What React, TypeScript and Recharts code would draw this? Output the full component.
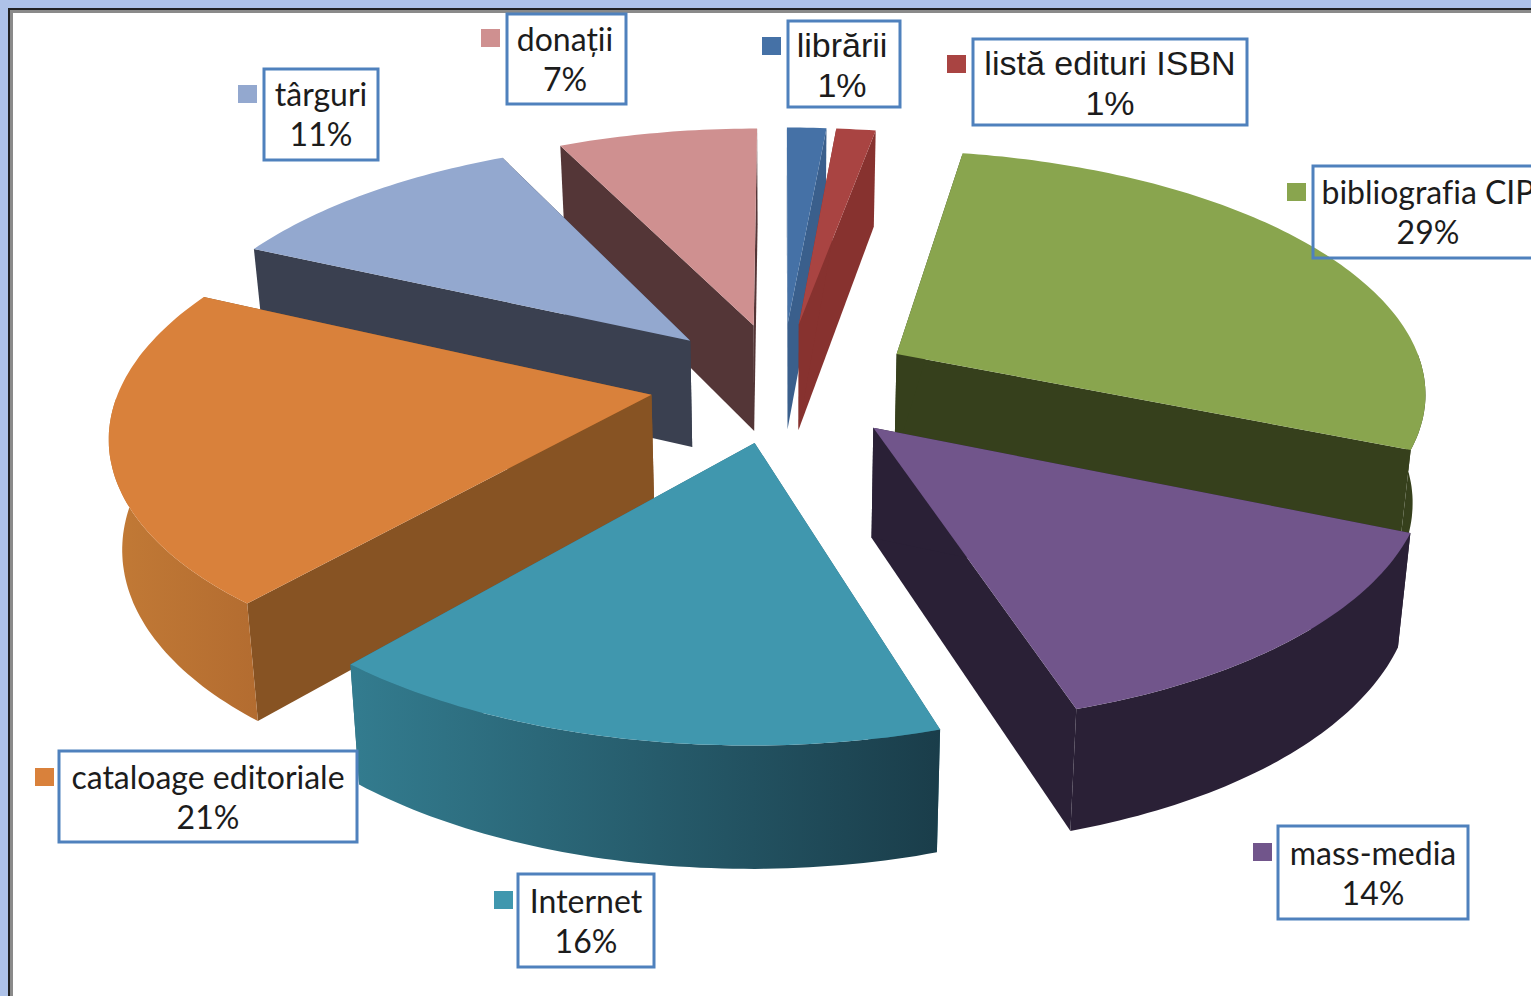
import React from "react";
import { PieChart, Pie } from "recharts";

// ---- data ----
const sliceNames = ["librării", "listă edituri ISBN", "bibliografia CIP", "mass-media", "Internet", "cataloage editoriale", "târguri", "donații"];
const sliceValues = [1.4, 1.4, 28.6, 13.8, 16.0, 20.8, 10.9, 7.1];
const topColors = ["#4571a6", "#a94442", "#89a54e", "#71558b", "#4097ae", "#d9813b", "#93a8cf", "#cf9090"];
const radialWallColors = ["#3a5f8c", "#87322f", "#36401c", "#2a2036", "#2c6a7b", "#875323", "#3a4050", "#543637"];
const arcWallFrom = ["#3a5f8c", "#87322f", "#36401c", "#2a2036", "#337c8f", "#c27a36", "#3a4050", "#543637"];
const arcWallTo = ["#3a5f8c", "#87322f", "#36401c", "#2a2036", "#1a3d4a", "#b36c30", "#3a4050", "#543637"];
// 0 = drawn in the clockwise pass, 1 = drawn in the counter-clockwise pass (painter's order)
const drawPass = [0, 0, 0, 0, 1, 1, 1, 1];
// label boxes: x, y, w, h, text centre, legend key x, key y, font, first baseline, second baseline
const labelBoxes: Record<string, number[]> = {
  "donații": [507, 14, 119, 90, 565, 481, 29, 0, 51, 91],
  "librării": [788, 21, 112, 86, 842, 762, 37, 1, 57, 97],
  "listă edituri ISBN": [973, 39, 274, 86, 1110, 947, 55, 1, 75, 115],
  "bibliografia CIP": [1313, 166, 240, 92, 1428, 1287, 183, 0, 204, 244],
  "mass-media": [1278, 826, 190, 93, 1373, 1253, 843, 0, 865, 905],
  "Internet": [518, 874, 136, 93, 586, 494, 891, 0, 913, 953],
  "cataloage editoriale": [59, 751, 298, 91, 208, 35, 768, 0, 789, 829],
  "târguri": [264, 69, 114, 91, 321, 238, 85, 0, 106, 146],
};

const tableForward = sliceNames.map((name, i) => ({ name, value: sliceValues[i] }));
const tableReverse = [...tableForward].reverse();

// ---- projection ----
const SQUASH = 240 / 530;
const PERSP = 0.143;
const EXPLODE = 0.25;
const DEPTH = 108;
const DEPTH_PERSP = 0.1;
const WALL_SHRINK = 0.98;

type Pt = [number, number];
const rad = (d: number) => (d * Math.PI) / 180;

function project(cx: number, cy: number, R: number, mid: number, a: number, r: number, low: boolean): Pt {
  const u = EXPLODE * Math.cos(rad(mid)) + r * Math.cos(rad(a));
  const v = -EXPLODE * Math.sin(rad(mid)) - r * Math.sin(rad(a));
  const s = 1 / (1 - PERSP * v);
  const X = R * u * s;
  const Y = R * SQUASH * v * s;
  if (!low) return [cx + X, cy + Y];
  return [cx + X * WALL_SHRINK, cy + Y + DEPTH / (1 - DEPTH_PERSP * v)];
}

const toPath = (pts: Pt[]) => "M" + pts.map((p) => `${p[0].toFixed(1)},${p[1].toFixed(1)}`).join("L") + "Z";

function makeShape(pass: number) {
  return function SliceShape(props: any) {
    const { cx, cy, outerRadius: R, startAngle, endAngle, name } = props;
    const i = sliceNames.indexOf(name);
    if (drawPass[i] !== pass) return <g />;
    const a0 = Math.min(startAngle, endAngle);
    const a1 = Math.max(startAngle, endAngle);
    const mid = (a0 + a1) / 2;
    const P = (a: number, r: number, low: boolean) => project(cx, cy, R, mid, a, r, low);

    const angles: number[] = [];
    const n = Math.max(2, Math.ceil(a1 - a0));
    for (let k = 0; k <= n; k++) angles.push(a0 + ((a1 - a0) * k) / n);

    const top: Pt[] = [P(a0, 0, false), ...angles.map((a) => P(a, 1, false))];
    const wall = (a: number): Pt[] => [P(a, 0, false), P(a, 1, false), P(a, 1, true), P(a, 0, true)];
    const front = angles.filter((a) => Math.sin(rad(a)) <= 0);
    const arcWall: Pt[] = [...front.map((a) => P(a, 1, false)), ...[...front].reverse().map((a) => P(a, 1, true))];
    const gid = `arcwall-${i}`;
    return (
      <g>
        <defs>
          <linearGradient id={gid} x1="0" y1="0" x2="1" y2="0">
            <stop offset="0%" stopColor={arcWallFrom[i]} />
            <stop offset="100%" stopColor={arcWallTo[i]} />
          </linearGradient>
        </defs>
        <path d={toPath(wall(a0))} fill={radialWallColors[i]} />
        <path d={toPath(wall(a1))} fill={radialWallColors[i]} />
        {front.length > 1 && <path d={toPath(arcWall)} fill={`url(#${gid})`} />}
        <path d={toPath(top)} fill={topColors[i]} />
      </g>
    );
  };
}

function renderLabel(props: any) {
  const { name, value } = props;
  const [x, y, w, h, tc, kx, ky, font, b1, b2] = labelBoxes[name];
  const i = sliceNames.indexOf(name);
  const family = font ? "'Liberation Sans', Arial, sans-serif" : "Lato, sans-serif";
  const size = font ? 34 : 32;
  const textStyle = { fontVariantLigatures: "none" } as React.CSSProperties;
  return (
    <g>
      <rect x={kx} y={ky} width={19} height={18} fill={topColors[i]} />
      <rect x={x} y={y} width={w} height={h} fill="none" stroke="#4f81bd" strokeWidth={3} />
      <text x={tc} y={b1} textAnchor="middle" fontFamily={family} fontSize={size} fill="#1c1c1c" style={textStyle}>{name}</text>
      <text x={tc} y={b2} textAnchor="middle" fontFamily={family} fontSize={size} fill="#1c1c1c" style={textStyle}>{`${Math.round(value)}%`}</text>
    </g>
  );
}

const shapeForward = makeShape(0);
const shapeReverse = makeShape(1);

export default function App() {
  return (
    <div style={{ position: "absolute", left: 0, top: 0, width: 1531, height: 996, overflow: "hidden", background: "#aec2e8" }}>
      <div style={{ position: "absolute", left: 8, top: 8, right: -10, bottom: -10, background: "#222" }} />
      <div style={{ position: "absolute", left: 10, top: 10, right: -10, bottom: -10, background: "#8a8a8a" }} />
      <div style={{ position: "absolute", left: 13, top: 13, right: -10, bottom: -10, background: "#fff" }} />
      <div style={{ position: "absolute", left: 0, top: 0 }}>
        <PieChart width={1531} height={996} margin={{ top: 0, right: 0, bottom: 0, left: 0 }}>
          <Pie
            data={tableForward}
            dataKey="value"
            nameKey="name"
            cx={782}
            cy={382}
            outerRadius={530}
            startAngle={90}
            endAngle={-270}
            paddingAngle={0}
            stroke="none"
            isAnimationActive={false}
            shape={shapeForward}
            label={false}
            labelLine={false}
          />
          <Pie
            data={tableReverse}
            dataKey="value"
            nameKey="name"
            cx={782}
            cy={382}
            outerRadius={530}
            startAngle={90}
            endAngle={450}
            paddingAngle={0}
            stroke="none"
            isAnimationActive={false}
            shape={shapeReverse}
            label={renderLabel}
            labelLine={false}
          />
        </PieChart>
      </div>
    </div>
  );
}
